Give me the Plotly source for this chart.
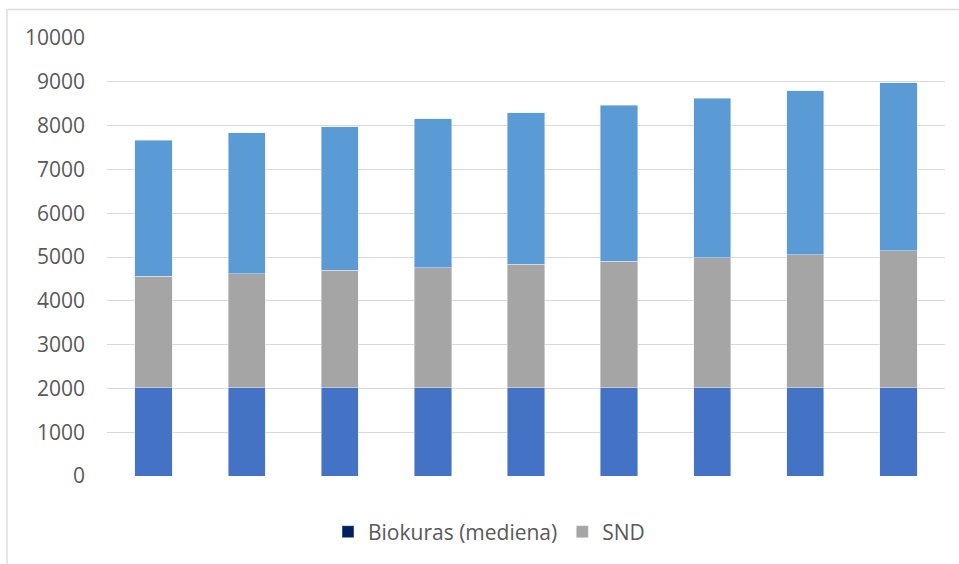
import plotly.graph_objects as go

categories = ["1", "2", "3", "4", "5", "6", "7", "8", "9"]
biokuras = [2020, 2020, 2020, 2020, 2020, 2020, 2020, 2020, 2020]
snd = [2535, 2603, 2672, 2740, 2809, 2884, 2961, 3037, 3128]
other = [3105, 3219, 3287, 3391, 3470, 3562, 3645, 3744, 3829]
y_ticks = [0, 1000, 2000, 3000, 4000, 5000, 6000, 7000, 8000, 9000, 10000]
y_tick_labels = ["0", "1000", "2000", "3000", "4000", "5000", "6000", "7000",
                 "8000", "9000", "10000"]

W, H = 959, 564
L, R, T, B = 107, 14, 38, 88
pw, ph = W - L - R, H - T - B

font = "Open Sans"
txt = "#595959"
fs = 21

fig = go.Figure()
fig.add_trace(go.Bar(x=categories, y=biokuras, marker_color="#4472C4",
                     showlegend=False, name="Biokuras (mediena)"))
fig.add_trace(go.Bar(x=categories, y=snd, marker_color="#A5A5A5", name="SND"))
fig.add_trace(go.Bar(x=categories, y=other, marker_color="#5B9BD5",
                     showlegend=False, name=""))
# legend entry for Biokuras (dark navy swatch as in the reference)
fig.add_trace(go.Bar(x=[None], y=[None], marker_color="#002060",
                     name="Biokuras (mediena)", showlegend=True))

fig.update_layout(
    barmode="stack",
    bargap=0.6,
    width=W, height=H,
    margin=dict(l=L, r=R, t=T, b=B),
    paper_bgcolor="white", plot_bgcolor="white",
    font=dict(family=font, color=txt, size=fs),
    xaxis=dict(showticklabels=False, showgrid=False, zeroline=False,
               showline=False, ticks=""),
    yaxis=dict(range=[0, 10000], tickvals=y_ticks, ticktext=y_tick_labels,
               gridcolor="#D9D9D9", gridwidth=1.4, zeroline=False,
               showline=False, ticks="", ticklabelstandoff=21,
               tickfont=dict(family=font, size=fs, color=txt)),
    legend=dict(orientation="h", x=(489 - L) / pw, xanchor="center",
                y=(H - B - 532) / ph, yanchor="middle",
                traceorder="reversed",
                font=dict(family=font, size=fs, color=txt),
                itemwidth=30),
    shapes=[dict(type="rect", xref="paper", yref="paper",
                 x0=(7 - L) / pw, x1=(975 - L) / pw,
                 y0=(H - B - 610) / ph, y1=(H - B - 9.5) / ph,
                 line=dict(color="#D9D9D9", width=1.3), fillcolor="rgba(0,0,0,0)",
                 layer="below")],
)

fig.write_html("out.html")
